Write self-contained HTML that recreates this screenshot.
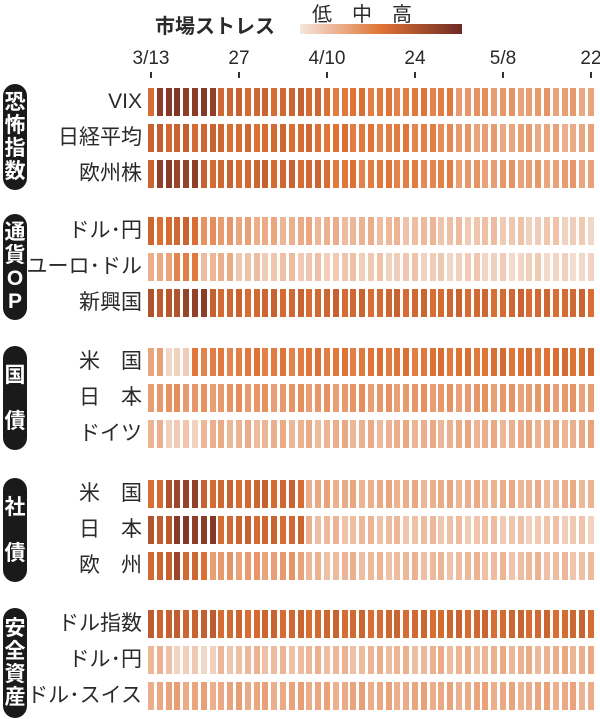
<!DOCTYPE html>
<html><head><meta charset="utf-8"><style>
body{margin:0;background:#fff;width:600px;height:719px;overflow:hidden;position:relative;font-family:"Liberation Sans","Noto Sans CJK JP",sans-serif;color:#2a2a2a}
.a{position:absolute}
.pill{position:absolute;left:3px;width:24px;background:#1a1a1a;border-radius:12px;color:#fff;font-weight:bold;font-size:21px;text-align:center;line-height:23px;display:flex;flex-direction:column;justify-content:center}
.lab{position:absolute;right:458px;font-size:21px;white-space:nowrap;text-align:right;line-height:28px}
.b{position:absolute;width:6px}
.t{position:absolute;font-size:19px;transform:translateX(-50%);top:48px}
.k{position:absolute;width:2px;height:6px;background:#333;top:72px}
</style></head><body>
<div class="a" style="left:155px;top:10px;font-size:20px;font-weight:bold">市場ストレス</div>
<div class="a" style="left:300px;top:24px;width:162px;height:10px;background:linear-gradient(90deg,#f5e6dc,#e07335,#6e2a24)"></div>
<div class="a" style="left:312px;top:-2px;font-size:20px">低</div>
<div class="a" style="left:352px;top:-2px;font-size:20px">中</div>
<div class="a" style="left:392px;top:-2px;font-size:20px">高</div>
<div id="c"></div>
<script>
const c=document.getElementById('c');let h='';
const x0=148,p=8.8,N=51;
[[0,'3/13'],[10,'27'],[20,'4/10'],[30,'24'],[40,'5/8'],[50,'22']].forEach(([i,s])=>{const x=x0+i*p+3;h+=`<div class="t" style="left:${x}px">${s}</div><div class="k" style="left:${x-1}px"></div>`});
function f(segs){const a=[];segs.forEach(([n,v,v2])=>{for(let i=0;i<n;i++)a.push(v2===undefined?v:v+(v2-v)*i/Math.max(1,n-1))});while(a.length<N)a.push(a[a.length-1]);return a}
const rows=[
[88,'VIX',f([[1,0.58],[7,0.88],[12,0.58],[15,0.5,0.45],[16,0.36,0.3]])],
[124,'日経平均',f([[8,0.6],[12,0.55],[15,0.5,0.42],[16,0.32,0.26]])],
[160,'欧州株',f([[1,0.62],[5,0.85],[14,0.58],[15,0.5,0.42],[16,0.34,0.3]])],
[217,'ドル･円',f([[6,0.56],[4,0.36],[41,0.27,0.1]])],
[253,'ユーロ･ドル',f([[3,0.25],[3,0.45],[4,0.22],[41,0.16,0.07]])],
[289,'新興国',f([[4,0.68],[3,0.86],[44,0.58,0.56]])],
[348,'米　国',f([[2,0.28],[3,0.1],[46,0.45,0.53]])],
[384,'日　本',f([[51,0.35,0.33]])],
[420,'ドイツ',f([[2,0.2],[4,0.12],[45,0.22,0.25]])],
[480,'米　国',f([[2,0.56],[1,0.7],[3,0.84],[12,0.58],[33,0.26,0.22]])],
[516,'日　本',f([[3,0.68],[5,0.88],[10,0.58],[33,0.2,0.12]])],
[552,'欧　州',f([[3,0.58],[1,0.83],[3,0.56],[11,0.32],[33,0.2,0.18]])],
[610,'ドル指数',f([[8,0.62],[43,0.57]])],
[646,'ドル･円',f([[3,0.2],[5,0.09],[43,0.18,0.24]])],
[682,'ドル･スイス',f([[51,0.28,0.26]])]];
const A=[245,230,220],B=[224,115,53],C=[110,42,36];
function col(v){let s,e,t;if(v<0.5){s=A;e=B;t=v/0.5}else{s=B;e=C;t=(v-0.5)/0.5}return `rgb(${s.map((q,i)=>Math.round(q+(e[i]-q)*t)).join(',')})`}
rows.forEach(([y,l,a],r)=>{h+=`<div class="lab" style="top:${y}px">${l}</div>`;a.forEach((v,i)=>{const j=((i*37+r*11)%7-3)*0.012;h+=`<div class="b" style="left:${(x0+i*p).toFixed(1)}px;top:${y}px;height:28px;background:${col(Math.max(0,v+j))}"></div>`})});
[[84,106,'恐<br>怖<br>指<br>数'],[214,106,'通<br>貨<br>O<br>P'],[346,104,'国<br><br>債'],[478,104,'社<br><br>債'],[608,110,'安<br>全<br>資<br>産']].forEach(([t,hh,s])=>{h+=`<div class="pill" style="top:${t}px;height:${hh}px">${s}</div>`});
c.innerHTML=h;
</script>
</body></html>
